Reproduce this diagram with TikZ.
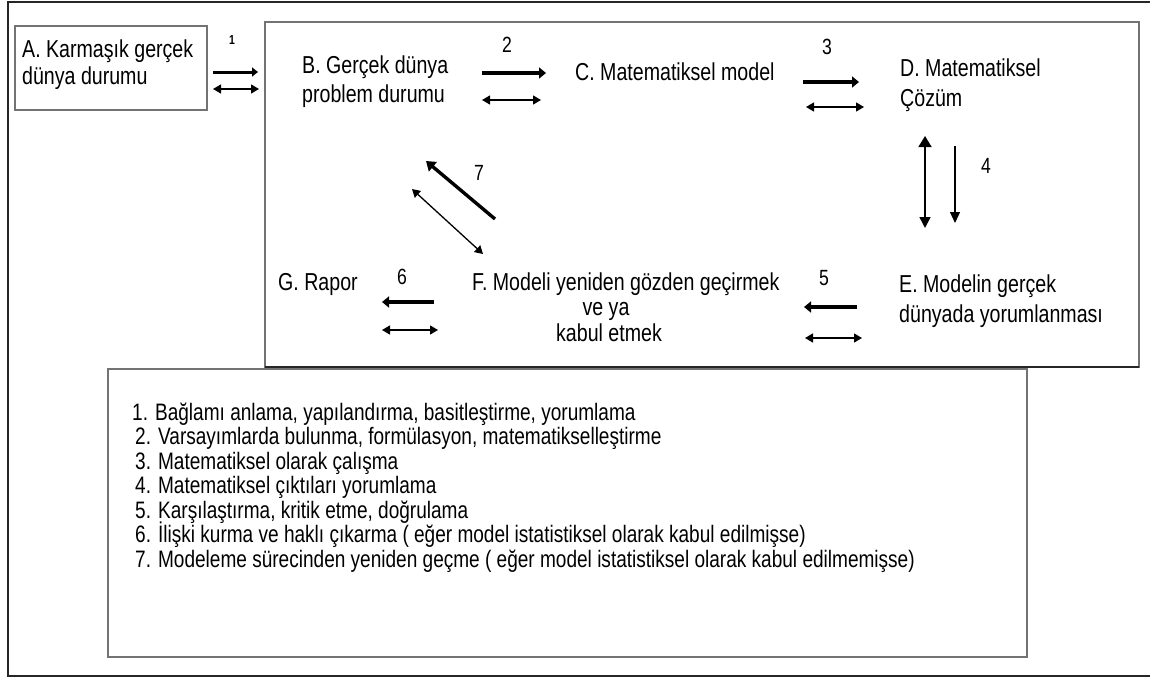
\documentclass[tikz,border=0pt]{standalone}
\usepackage{fontspec}
\setmainfont{Liberation Sans}[FakeStretch=0.8]
\usetikzlibrary{arrows.meta}

\tikzset{
  lbl/.style={anchor=base west, inner sep=0pt, font=\fontsize{24.5}{28}\selectfont},
  lblc/.style={anchor=base, inner sep=0pt, font=\fontsize{24.5}{28}\selectfont},
  num/.style={anchor=center, inner sep=0pt, font=\fontsize{22}{26}\selectfont},
  legend/.style={anchor=base west, inner sep=0pt, font=\fontsize{23.8}{26}\selectfont},
  frameline/.style={line width=2.2pt, black!85},
  boxline/.style={line width=1.4pt, black!55},
  thick arrow/.style={line width=3.6pt, -{Triangle[length=7pt,width=11pt]}},
  thin both/.style={line width=1.3pt, {Triangle[length=8pt,width=9pt]}-{Triangle[length=8pt,width=9pt]}},
  thin one/.style={line width=1.3pt, -{Triangle[length=11pt,width=10pt]}}
}

\begin{document}
\begin{tikzpicture}[x=1pt,y=-1pt]
\useasboundingbox (0,0) rectangle (1150,677);

% outer frame (open on the right)
\draw[frameline] (1152,2) -- (8,2) -- (8,676) -- (1152,676);

% box A
\draw[boxline] (15,26) rectangle (207,110);
\node[lbl] (A1) at (22,57) {A. Karmaşık gerçek};
\node[lbl] (A2) at (22,84) {dünya durumu};

% main box
\draw[boxline] (265,22) rectangle (1139,367);
\draw[line width=2.4pt, black!85] (265,367) -- (1139,367);

% legend box
\draw[boxline] (108,369) rectangle (1027,657);

% stage labels
\node[lbl] (B1) at (302,74) {B. Gerçek dünya};
\node[lbl] (B2) at (302,102) {problem durumu};
\node[lbl] (C)  at (575,81) {C. Matematiksel model};
\node[lbl] (D1) at (900,76) {D. Matematiksel};
\node[lbl] (D2) at (900,106) {Çözüm};
\node[lbl] (E1) at (899,292) {E. Modelin gerçek};
\node[lbl] (E2) at (899,322) {dünyada yorumlanması};
\node[lbl] (F1) at (472,290) {F. Modeli yeniden gözden geçirmek};
\node[lblc] (F2) at (606,315) {ve ya};
\node[lblc] (F3) at (609,341) {kabul etmek};
\node[lbl] (G)  at (278,290) {G. Rapor};

% arrow 1
\coordinate (a1s) at (213,72);  \coordinate (a1e) at (258,72);
\coordinate (a1l) at (213,89);  \coordinate (a1r) at (259,89);
\draw[line width=3pt, -{Triangle[length=6pt,width=9pt]}] (a1s) -- (a1e);
\draw[thin both] (a1l) -- (a1r);
\node[anchor=center, inner sep=0pt, font=\fontsize{13}{15}\selectfont\bfseries] (n1) at (232,40) {1};

% arrow 2
\coordinate (a2s) at (482,73);  \coordinate (a2e) at (546,73);
\coordinate (a2l) at (482,100); \coordinate (a2r) at (541,100);
\draw[thick arrow] (a2s) -- (a2e);
\draw[thin both] (a2l) -- (a2r);
\node[num] (n2) at (507,45) {2};

% arrow 3
\coordinate (a3s) at (803,82);  \coordinate (a3e) at (859,82);
\coordinate (a3l) at (806,107); \coordinate (a3r) at (864,107);
\draw[thick arrow] (a3s) -- (a3e);
\draw[thin both] (a3l) -- (a3r);
\node[num] (n3) at (827,47) {3};

% arrow 4
\coordinate (a4t) at (925,136); \coordinate (a4b) at (925,228);
\coordinate (a4s) at (955,146); \coordinate (a4e) at (955,223);
\draw[line width=1.5pt, {Triangle[length=11pt,width=13pt]}-{Triangle[length=11pt,width=11pt]}] (a4t) -- (a4b);
\draw[thin one] (a4s) -- (a4e);
\node[num] (n4) at (986,166) {4};

% arrow 5
\coordinate (a5s) at (857,307); \coordinate (a5e) at (804,307);
\coordinate (a5l) at (805,338); \coordinate (a5r) at (862,338);
\draw[thick arrow] (a5s) -- (a5e);
\draw[thin both] (a5l) -- (a5r);
\node[num] (n5) at (824,278) {5};

% arrow 6
\coordinate (a6s) at (434,302); \coordinate (a6e) at (382,302);
\coordinate (a6l) at (382,330); \coordinate (a6r) at (438,330);
\draw[thick arrow] (a6s) -- (a6e);
\draw[thin both] (a6l) -- (a6r);
\node[num] (n6) at (402,277) {6};

% arrow 7
\coordinate (a7s) at (495,219); \coordinate (a7e) at (426,161);
\coordinate (a7l) at (412,189); \coordinate (a7r) at (483,254);
\draw[line width=3.4pt, -{Triangle[length=9pt,width=12pt]}] (a7s) -- (a7e);
\draw[thin both] (a7l) -- (a7r);
\node[num] (n7) at (479,173) {7};

% legend entries
\node[legend] (L1) at (132,420) {1. Bağlamı anlama, yapılandırma, basitleştirme, yorumlama};
\node[legend] (L2) at (135,444.5) {2. Varsayımlarda bulunma, formülasyon, matematikselleştirme};
\node[legend] (L3) at (135,469) {3. Matematiksel olarak çalışma};
\node[legend] (L4) at (135,493.5) {4. Matematiksel çıktıları yorumlama};
\node[legend] (L5) at (135,518) {5. Karşılaştırma, kritik etme, doğrulama};
\node[legend] (L6) at (135,542.5) {6. İlişki kurma ve haklı çıkarma ( eğer model istatistiksel olarak kabul edilmişse)};
\node[legend] (L7) at (135,567) {7. Modeleme sürecinden yeniden geçme ( eğer model istatistiksel olarak kabul edilmemişse)};
\end{tikzpicture}
\end{document}
